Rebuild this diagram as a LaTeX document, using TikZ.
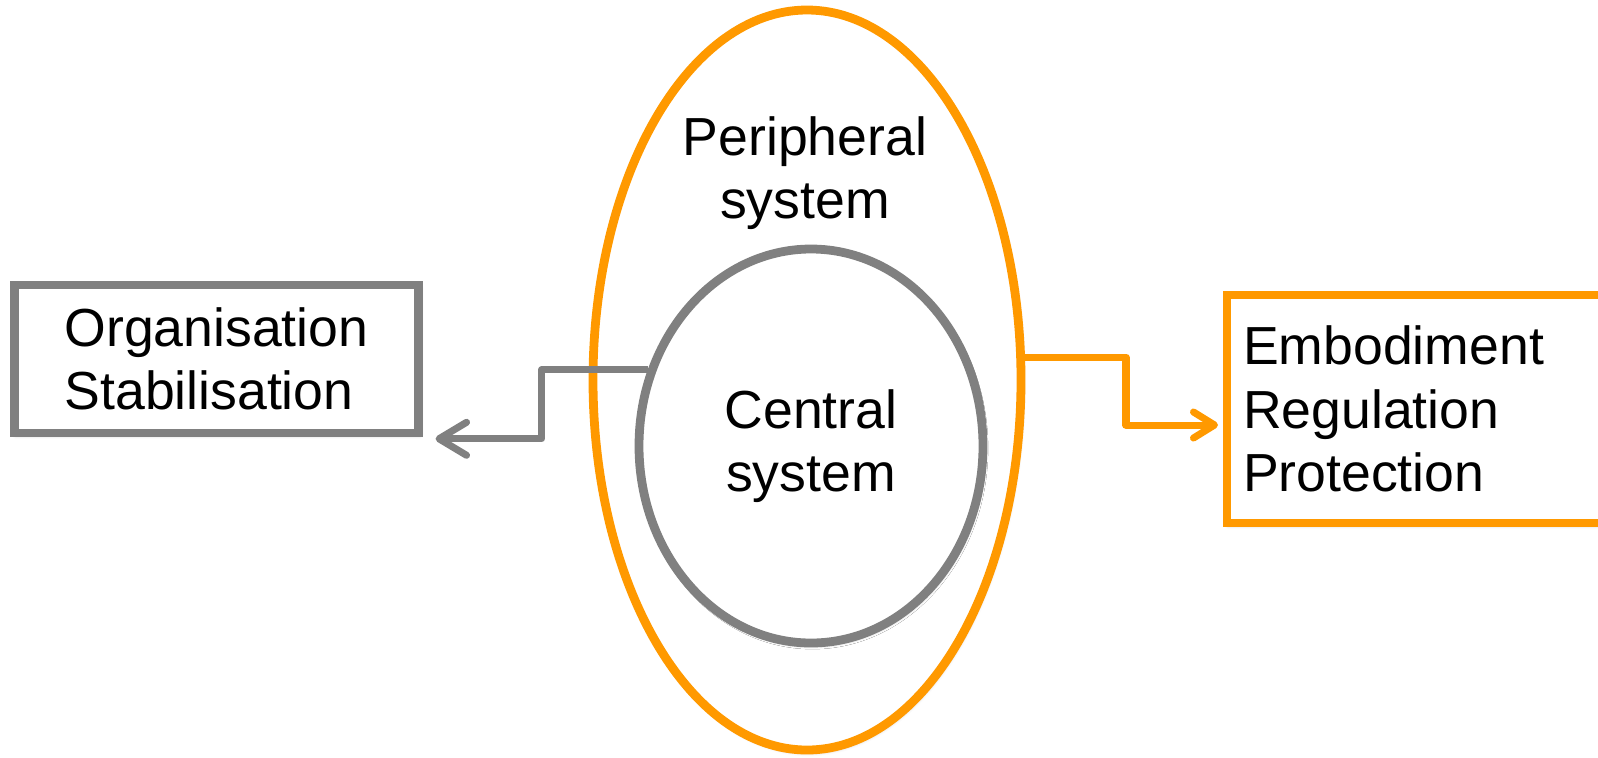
\documentclass[tikz,border=0pt]{standalone}
\usepackage{fontspec}
\setmainfont{Liberation Sans}
\usetikzlibrary{arrows.meta, shadows.blur, shapes.geometric}
\definecolor{sysorange}{RGB}{255,153,0}
\definecolor{sysgray}{RGB}{128,128,128}

\begin{document}
\begin{tikzpicture}[font=\fontsize{30.5}{36}\selectfont,
    ring/.style={
        ellipse, line width=5pt, fill=white, inner sep=0pt, align=center,
        blur shadow={shadow blur steps=4, shadow blur extra rounding=0pt,
                     shadow xshift=0.8pt, shadow yshift=-1.4pt, shadow opacity=25}
    },
    outbox/.style={
        line width=4.6pt, fill=white, inner sep=0pt,
        blur shadow={shadow blur steps=4, shadow blur extra rounding=0pt,
                     shadow xshift=0.8pt, shadow yshift=-1.4pt, shadow opacity=25}
    },
    link/.style={line width=4pt, line join=round},
    graylink/.style={link, sysgray, -{Straight Barb[length=0.55cm,width=0.66cm,round]}},
    orangelink/.style={link, sysorange, -{Straight Barb[length=0.42cm,width=0.52cm,round]}},
    tlab/.style={align=center, text=black},
]

    \useasboundingbox (0,0) rectangle (31.96,-15.14);

    % the two systems
    \node[ring, draw=sysorange, minimum width=8.56cm, minimum height=14.8cm]
        (periph) at (16.14,-7.60) {};
    \node[tlab] (ptext) at (16.10,-3.46) {Peripheral\\system};
    \node[ring, draw=sysgray, minimum width=6.88cm, minimum height=7.88cm]
        (central) at (16.22,-8.92) {Central\\system};

    % what they do
    \node[outbox, draw=sysgray, align=left, minimum width=8.08cm, minimum height=2.95cm]
        (orgbox) at (4.33,-7.18) {Organisation\\Stabilisation};
    \node[outbox, draw=sysorange, align=left, anchor=west, text width=7cm,
        inner xsep=0.32cm, minimum height=4.56cm]
        (ebox) at (24.46,-8.18) {Embodiment\\Regulation\\Protection};

    \draw[graylink] (central.155) -- ++(-2.12,0)
        |- ([xshift=0.26cm,yshift=-0.04cm]orgbox.south east);
    \draw[orangelink] (periph.6) -- ++(2.02,0)
        |- ([xshift=-0.1cm,yshift=-0.32cm]ebox.west);

\end{tikzpicture}
\end{document}
